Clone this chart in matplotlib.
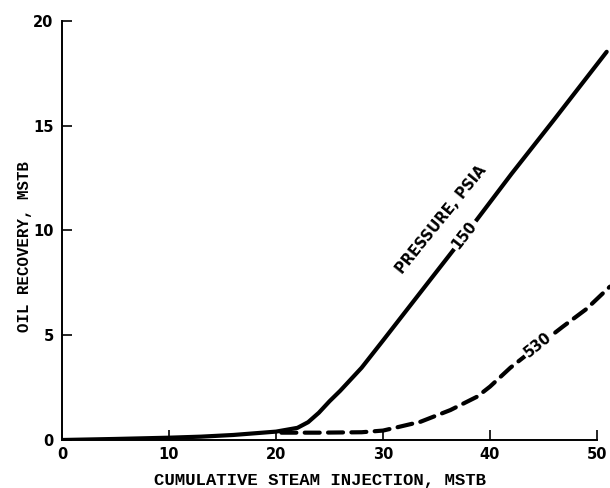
import matplotlib

matplotlib.use("Agg")
import matplotlib.pyplot as plt

# 150 psia curve (solid)
x_150 = [0, 5, 10, 13, 16, 20, 22, 23, 24, 25, 26, 27, 28, 30, 34.4, 38, 42, 46, 50.9]
y_150 = [0, 0.05, 0.11, 0.16, 0.24, 0.40, 0.58, 0.85, 1.30, 1.85, 2.35, 2.90, 3.45, 4.75, 7.64, 10.0, 12.7, 15.3, 18.53]

# 530 psia curve (dashed)
x_530 = [20.5, 24, 28, 30, 31.6, 33.5, 36.3, 38.8, 40.0, 41.9, 44.5, 46.8, 49.0, 51.2]
y_530 = [0.35, 0.35, 0.37, 0.45, 0.64, 0.87, 1.43, 2.07, 2.55, 3.45, 4.5, 5.41, 6.25, 7.32]

x_ticks = [0, 10, 20, 30, 40, 50]
y_ticks = [0, 5, 10, 15, 20]

x_label = "CUMULATIVE STEAM INJECTION, MSTB"
y_label = "OIL RECOVERY, MSTB"

fig = plt.figure(figsize=(6.1, 4.88), dpi=100)
ax = fig.add_axes([62 / 610, 48 / 488, 548 / 610, 419 / 488])

ax.plot(x_150, y_150, color="black", linewidth=3.0, solid_capstyle="round", solid_joinstyle="round")
ax.plot(x_530, y_530, color="black", linewidth=3.0, linestyle=(0, (3.6, 2.0)), dash_capstyle="round")

ax.set_xlim(0, 51.21)
ax.set_ylim(0, 20)

for side in ("top", "right"):
    ax.spines[side].set_visible(False)
ax.spines["bottom"].set_bounds(0, 50)
ax.spines["left"].set_bounds(0, 20)
for side in ("bottom", "left"):
    ax.spines[side].set_linewidth(1.4)

tick_font = dict(family="DejaVu Sans", weight="bold", size=10.5)
ax.set_xticks(x_ticks)
ax.set_xticklabels([str(v) for v in x_ticks], **tick_font)
ax.set_yticks(y_ticks)
ax.set_yticklabels([str(v) for v in y_ticks], **tick_font)
ax.tick_params(axis="both", direction="in", length=7, width=1.2)
ax.tick_params(axis="x", pad=5)
ax.tick_params(axis="y", pad=6)

label_font = dict(family="Liberation Mono", weight="bold")
fig.text(320 / 610, 1 - 480 / 488, x_label, ha="center", va="center", fontsize=12.5, **label_font)
fig.text(25 / 610, 1 - 247 / 488, y_label, ha="center", va="center", rotation=90, fontsize=11.3, **label_font)

note_font = dict(family="DejaVu Sans", weight="bold", size=10.5)
white_box = dict(boxstyle="square,pad=0.15", facecolor="white", edgecolor="none")
ax.text(35.4, 10.5, "PRESSURE, PSIA", rotation=51, ha="center", va="center",
        rotation_mode="anchor", **note_font)
ax.text(37.6, 9.8, "150", rotation=52, ha="center", va="center",
        rotation_mode="anchor", bbox=white_box, **note_font)
ax.text(44.5, 4.55, "530", rotation=39, ha="center", va="center",
        rotation_mode="anchor", bbox=white_box, **note_font)

fig.savefig("out.png", dpi=100)
